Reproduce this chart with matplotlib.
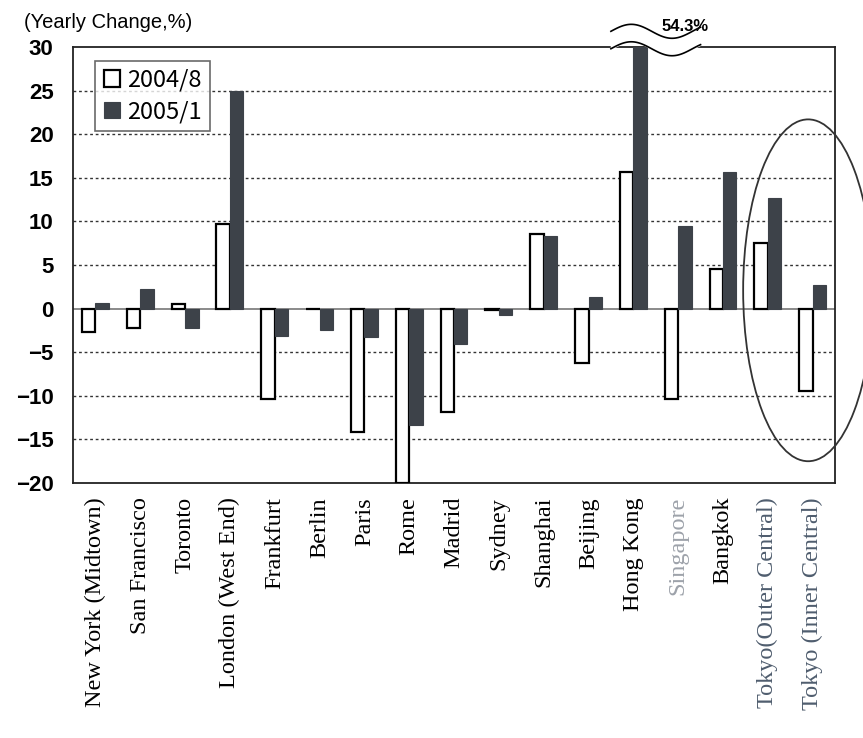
import matplotlib.pyplot as plt
from matplotlib.patches import Ellipse
import numpy as np

cities = ['New York (Midtown)', 'San Francisco', 'Toronto', 'London (West End)',
          'Frankfurt', 'Berlin', 'Paris', 'Rome', 'Madrid', 'Sydney', 'Shanghai',
          'Beijing', 'Hong Kong', 'Singapore', 'Bangkok', 'Tokyo(Outer Central)',
          'Tokyo (Inner Central)']
aug2004 = [-2.7, -2.2, 0.5, 9.7, -10.4, 0.0, -14.1, -20.0, -11.9, -0.2, 8.6,
           -6.2, 15.7, -10.4, 4.5, 7.5, -9.5]
jan2005 = [0.6, 2.3, -2.2, 25.0, -3.1, -2.4, -3.3, -13.3, -4.1, -0.7, 8.3,
           1.3, 54.3, 9.5, 15.7, 12.7, 2.75]
yticks = list(range(-20, 31, 5))
hk_label = '54.3%'

fig = plt.figure(figsize=(8.63, 7.38), dpi=100)
ax = fig.add_axes([0.0846, 0.3455, 0.883, 0.5908])

x = np.arange(len(cities))
w = 0.3
dark = '#3d4249'
ax.bar(x - w / 2, aug2004, w, color='white', edgecolor='black', linewidth=1.6,
       label='2004/8', zorder=3)
ax.bar(x + w / 2, jan2005, w, color=dark, edgecolor=dark, linewidth=0.8,
       label='2005/1', zorder=3)

ax.set_xlim(-0.5, len(cities) - 0.5)
ax.set_ylim(-20, 30)
ax.set_yticks(yticks)
ax.set_yticklabels([str(t).replace('-', '\u2212') for t in yticks], fontsize=16,
                   fontweight='bold', family='Liberation Sans')
for t in yticks:
    if t not in (0, 30, -20):
        ax.axhline(t, color='#333333', lw=1, ls=(0, (2, 2)), zorder=1)
ax.axhline(0, color='#777777', lw=1.2, zorder=2)

ax.set_xticks(x)
ax.set_xticklabels(cities, rotation=90, fontsize=17.5, family='Liberation Serif')
for lab in ax.get_xticklabels():
    if lab.get_text() == 'Singapore':
        lab.set_color('#9da2aa')
    elif lab.get_text().startswith('Tokyo'):
        lab.set_color('#4f5d6e')
ax.tick_params(axis='y', length=0, pad=14)
ax.tick_params(axis='x', length=0, pad=10)
for s in ax.spines.values():
    s.set_linewidth(1.3)
    s.set_color('#222222')

leg = ax.legend(loc='upper left', bbox_to_anchor=(0.02, 0.985),
                prop={'family': 'Noto Sans CJK JP', 'size': 17},
                frameon=True, fancybox=False, edgecolor='#444444',
                handlelength=0.7, handleheight=0.7, handletextpad=0.3,
                borderpad=0.35, labelspacing=0.35, borderaxespad=0.3)
leg.get_frame().set_linewidth(1.2)

# axis break symbol for Hong Kong
hk = cities.index('Hong Kong')
xs = np.linspace(hk - 0.5, hk + 1.5, 100)
wave = 0.8 * np.sin((xs - (hk - 0.5)) / 2.0 * 2 * np.pi * 1.1)
ax.fill_between(xs, 29.8 + wave, 31.8 + wave, color='white', zorder=5,
                clip_on=False)
ax.plot(xs, 31.8 + wave, color='black', lw=1.2, zorder=6, clip_on=False)
ax.plot(xs, 29.8 + wave, color='black', lw=1.2, zorder=6, clip_on=False)
ax.text(hk + 1.15, 32.3, hk_label, fontsize=12, fontweight='bold',
        ha='center', va='center', zorder=7, family='Liberation Sans')

# ellipse around Tokyo
ax.add_patch(Ellipse((15.9, 2.1), 2.9, 39.2, fill=False, edgecolor='#333333',
                     lw=1.3, clip_on=False, zorder=6))

fig.text(0.028, 0.97, '(Yearly Change,%)', fontsize=14.5,
         family='Liberation Sans', va='center', ha='left')

fig.savefig('out.png', dpi=100)
